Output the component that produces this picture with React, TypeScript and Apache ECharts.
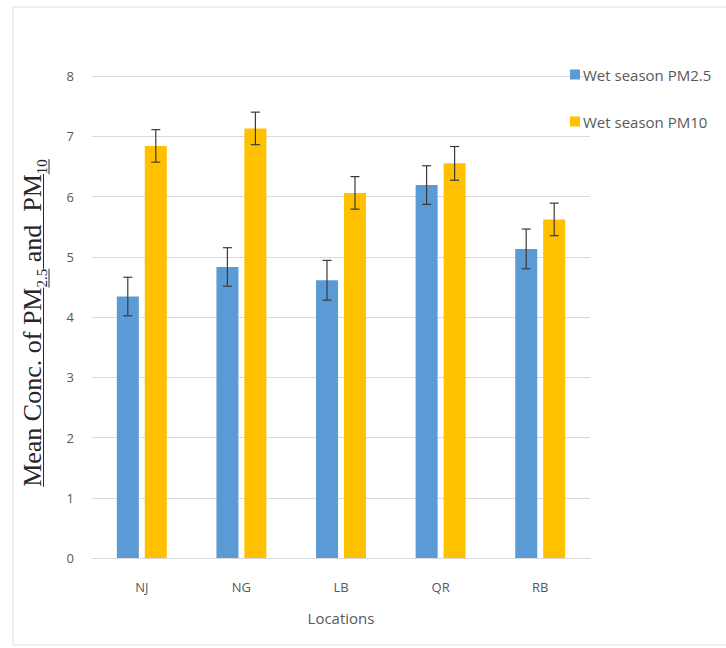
import React, { useEffect, useRef } from "react";
import * as echarts from "echarts";

// Sampling sites and wet-season mean concentrations with their error margins
const categories = ["NJ", "NG", "LB", "QR", "RB"];
const pm25 = [4.34, 4.83, 4.61, 6.19, 5.13];
const pm25Err = [0.32, 0.32, 0.33, 0.32, 0.33];
const pm10 = [6.84, 7.13, 6.06, 6.55, 5.62];
const pm10Err = [0.27, 0.27, 0.27, 0.28, 0.27];
const seriesNames = ["Wet season PM2.5", "Wet season PM10"];
const yMin = 0;
const yMax = 8;
const yStep = 1;

const BLUE = "#5B9BD5";
const GOLD = "#FFC000";
const TEXT = "#595959";
const GRID = "#d9d9d9";
const SANS = "'Open Sans', 'Liberation Sans', sans-serif";
const SERIF = "'Liberation Serif', 'DejaVu Serif', serif";

const BAR_W = 22;
const HALF_PAIR = 14; // distance from category centre to each bar centre

// Axis title pieces: normal text and subscripts
const titleParts = [
  { text: "Mean Conc. of PM", sub: false },
  { text: "2.5", sub: true },
  { text: " and  PM", sub: false },
  { text: "10", sub: true },
];

function buildTitle() {
  const mainSize = 26;
  const subSize = 15;
  const canvas = document.createElement("canvas");
  const ctx = canvas.getContext("2d")!;
  const widths = titleParts.map((p) => {
    ctx.font = `${p.sub ? subSize : mainSize}px "Liberation Serif"`;
    return ctx.measureText(p.text).width;
  });
  const total = widths.reduce((a, b) => a + b, 0);
  let cursor = -total / 2;
  const children: any[] = [];
  titleParts.forEach((p, i) => {
    const w = widths[i];
    const size = p.sub ? subSize : mainSize;
    children.push({
      type: "text",
      x: cursor,
      y: p.sub ? 10 : 0,
      style: {
        text: p.text,
        fill: "#262626",
        font: `${size}px ${SERIF}`,
        align: "left",
        verticalAlign: "middle",
        textAlign: "left",
        textVerticalAlign: "middle",
      },
    });
    const uy = p.sub ? 17 : 11.5;
    children.push({
      type: "line",
      shape: { x1: cursor, y1: uy, x2: cursor + w, y2: uy },
      style: { stroke: "#262626", lineWidth: 1 },
    });
    cursor += w;
  });
  return {
    type: "group",
    x: 32,
    y: 323,
    rotation: Math.PI / 2,
    children,
  };
}

function errorSeries(values: number[], errs: number[], offset: number) {
  return {
    type: "custom",
    z: 5,
    silent: true,
    data: values.map((v, i) => [i, v, errs[i]]),
    encode: { x: 0, y: 1 },
    renderItem: (_params: any, api: any) => {
      const i = api.value(0);
      const v = api.value(1);
      const e = api.value(2);
      const top = api.coord([i, v + e]);
      const bot = api.coord([i, v - e]);
      const x = top[0] + offset;
      const cap = 4.5;
      const style = { stroke: "#3a3a3a", lineWidth: 1.2 };
      return {
        type: "group",
        children: [
          { type: "line", shape: { x1: x, y1: top[1], x2: x, y2: bot[1] }, style },
          { type: "line", shape: { x1: x - cap, y1: top[1], x2: x + cap, y2: top[1] }, style },
          { type: "line", shape: { x1: x - cap, y1: bot[1], x2: x + cap, y2: bot[1] }, style },
        ],
      };
    },
  };
}

export default function App() {
  const ref = useRef<HTMLDivElement>(null);

  useEffect(() => {
    if (!ref.current) return;
    const chart = echarts.init(ref.current, undefined, { renderer: "svg" });
    chart.setOption({
      animation: false,
      backgroundColor: "#ffffff",
      textStyle: { fontFamily: SANS },
      grid: { left: 92, right: 136, top: 76, bottom: 90 },
      legend: {
        orient: "vertical",
        left: 565,
        top: 62,
        itemWidth: 10,
        itemHeight: 10,
        itemGap: 32,
        icon: "rect",
        textStyle: { color: TEXT, fontSize: 15, fontFamily: SANS, padding: [0, 0, 0, -2] },
        data: seriesNames,
      },
      xAxis: {
        type: "category",
        data: categories,
        name: "Locations",
        nameLocation: "middle",
        nameGap: 52,
        nameTextStyle: { color: TEXT, fontSize: 15, fontFamily: SANS },
        axisLine: { lineStyle: { color: GRID, width: 1 } },
        axisTick: { show: false },
        axisLabel: { color: TEXT, fontSize: 13, margin: 22, fontFamily: SANS },
      },
      yAxis: {
        type: "value",
        min: yMin,
        max: yMax,
        interval: yStep,
        axisLine: { show: false },
        axisTick: { show: false },
        axisLabel: { color: TEXT, fontSize: 13, margin: 18, fontFamily: SANS },
        splitLine: { lineStyle: { color: GRID, width: 1 } },
      },
      series: [
        {
          name: seriesNames[0],
          type: "bar",
          data: pm25,
          barWidth: BAR_W,
          barGap: "27%",
          itemStyle: { color: BLUE },
        },
        {
          name: seriesNames[1],
          type: "bar",
          data: pm10,
          barWidth: BAR_W,
          barGap: "27%",
          itemStyle: { color: GOLD },
        },
        errorSeries(pm25, pm25Err, -HALF_PAIR),
        errorSeries(pm10, pm10Err, HALF_PAIR),
      ],
      graphic: [
        {
          type: "rect",
          shape: { x: 13, y: 7, width: 730, height: 638 },
          style: { fill: "none", stroke: "#dedede", lineWidth: 1 },
          silent: true,
        },
        buildTitle(),
      ],
    });
    return () => chart.dispose();
  }, []);

  return (
    <div
      ref={ref}
      style={{ position: "absolute", left: 0, top: 0, width: 726, height: 648 }}
    />
  );
}
